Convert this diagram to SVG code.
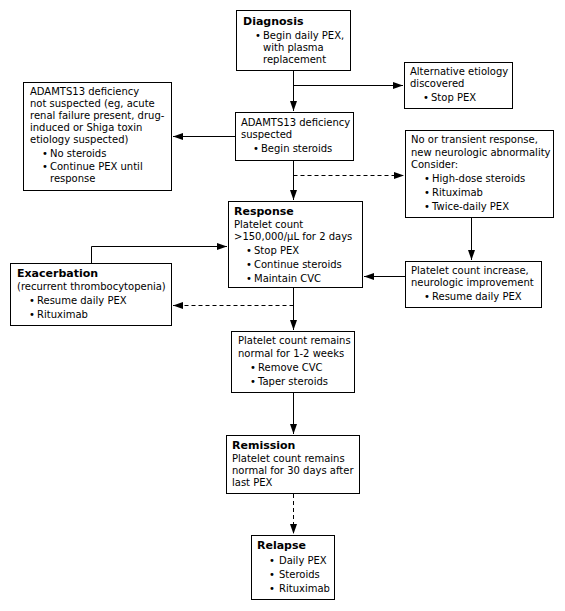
<svg xmlns="http://www.w3.org/2000/svg" width="565" height="611" viewBox="0 0 565 611">
<defs>
<style>
text{font-family:"DejaVu Sans","Verdana","Liberation Sans",sans-serif;font-size:10px;fill:#000}
.t{font-weight:bold;font-size:11px}
.box{fill:#fff;stroke:#000;stroke-width:1}
.ln{fill:none;stroke:#000;stroke-width:1}
.d{stroke-dasharray:4,3}
</style>
<marker id="ah" markerUnits="userSpaceOnUse" markerWidth="11" markerHeight="8" refX="10" refY="3.5" orient="auto">
<path d="M0,0 L10,3.5 L0,7 z" fill="#000"/>
</marker>
</defs>
<rect width="565" height="611" fill="#fff"/>

<g id="connectors">
<path class="ln" d="M293.5,71 V111" marker-end="url(#ah)"/>
<path class="ln" d="M293.5,85.5 H403" marker-end="url(#ah)"/>
<path class="ln" d="M235,136.5 H173" marker-end="url(#ah)"/>
<path class="ln" d="M293.5,161 V200" marker-end="url(#ah)"/>
<path class="ln d" d="M293.5,175.5 H404" marker-end="url(#ah)"/>
<path class="ln" d="M471.5,218 V260" marker-end="url(#ah)"/>
<path class="ln" d="M405,276.5 H364" marker-end="url(#ah)"/>
<path class="ln" d="M91.5,263 V246.5 H227" marker-end="url(#ah)"/>
<path class="ln d" d="M293.5,305.5 H173" marker-end="url(#ah)"/>
<path class="ln" d="M293.5,288 V330" marker-end="url(#ah)"/>
<path class="ln" d="M293.5,393 V434" marker-end="url(#ah)"/>
<path class="ln d" d="M293.5,494 V534" marker-end="url(#ah)"/>
</g>

<g id="diagnosis">
<rect class="box" x="236.5" y="10.5" width="114" height="60"/>
<text class="t" x="243" y="25">Diagnosis</text>
<text x="255" y="39">•<tspan x="263">Begin daily PEX,</tspan></text>
<text x="263" y="51">with plasma</text>
<text x="263" y="63">replacement</text>
</g>

<g id="alternative">
<rect class="box" x="404.5" y="62.5" width="108" height="46"/>
<text x="410" y="75">Alternative etiology</text>
<text x="410" y="87">discovered</text>
<text x="423" y="101">•<tspan x="431">Stop PEX</tspan></text>
</g>

<g id="not-suspected">
<rect class="box" x="23.5" y="82.5" width="148" height="108"/>
<text x="30" y="95">ADAMTS13 deficiency</text>
<text x="30" y="107">not suspected (eg, acute</text>
<text x="30" y="119">renal failure present, drug-</text>
<text x="30" y="131">induced or Shiga toxin</text>
<text x="30" y="143">etiology suspected)</text>
<text x="42" y="157">•<tspan x="50">No steroids</tspan></text>
<text x="42" y="170">•<tspan x="50">Continue PEX until</tspan></text>
<text x="50" y="182">response</text>
</g>

<g id="suspected">
<rect class="box" x="235.5" y="112.5" width="118" height="48"/>
<text x="241" y="126">ADAMTS13 deficiency</text>
<text x="241" y="138">suspected</text>
<text x="253" y="152">•<tspan x="261">Begin steroids</tspan></text>
</g>

<g id="no-response">
<rect class="box" x="405.5" y="130.5" width="148" height="87"/>
<text x="411" y="143">No or transient response,</text>
<text x="411" y="156">new neurologic abnormality</text>
<text x="411" y="168">Consider:</text>
<text x="424" y="182">•<tspan x="432">High-dose steroids</tspan></text>
<text x="424" y="196">•<tspan x="432">Rituximab</tspan></text>
<text x="424" y="210">•<tspan x="432">Twice-daily PEX</tspan></text>
</g>

<g id="improvement">
<rect class="box" x="405.5" y="261.5" width="136" height="46"/>
<text x="411" y="274">Platelet count increase,</text>
<text x="411" y="286">neurologic improvement</text>
<text x="424" y="300">•<tspan x="432">Resume daily PEX</tspan></text>
</g>

<g id="response">
<rect class="box" x="228.5" y="201.5" width="134" height="86"/>
<text class="t" x="234" y="215">Response</text>
<text x="234" y="228">Platelet count</text>
<text x="234" y="240">&gt;150,000/µL for 2 days</text>
<text x="246" y="254">•<tspan x="254">Stop PEX</tspan></text>
<text x="246" y="268">•<tspan x="254">Continue steroids</tspan></text>
<text x="246" y="282">•<tspan x="254">Maintain CVC</tspan></text>
</g>

<g id="exacerbation">
<rect class="box" x="10.5" y="263.5" width="161" height="62"/>
<text class="t" x="17" y="277">Exacerbation</text>
<text x="17" y="290">(recurrent thrombocytopenia)</text>
<text x="29" y="304">•<tspan x="37">Resume daily PEX</tspan></text>
<text x="29" y="318">•<tspan x="37">Rituximab</tspan></text>
</g>

<g id="normal-weeks">
<rect class="box" x="231.5" y="331.5" width="123" height="61"/>
<text x="238" y="344">Platelet count remains</text>
<text x="238" y="357">normal for 1-2 weeks</text>
<text x="250" y="371">•<tspan x="258">Remove CVC</tspan></text>
<text x="250" y="385">•<tspan x="258">Taper steroids</tspan></text>
</g>

<g id="remission">
<rect class="box" x="226.5" y="435.5" width="133" height="58"/>
<text class="t" x="232" y="449">Remission</text>
<text x="232" y="462">Platelet count remains</text>
<text x="232" y="474">normal for 30 days after</text>
<text x="232" y="486">last PEX</text>
</g>

<g id="relapse">
<rect class="box" x="251.5" y="535.5" width="83" height="64"/>
<text class="t" x="257" y="549">Relapse</text>
<text x="269" y="564">•<tspan x="279">Daily PEX</tspan></text>
<text x="269" y="578">•<tspan x="279">Steroids</tspan></text>
<text x="269" y="592">•<tspan x="279">Rituximab</tspan></text>
</g>
</svg>
